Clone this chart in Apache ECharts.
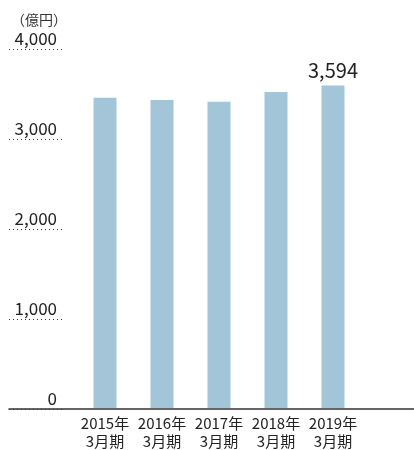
<!DOCTYPE html>
<html>
<head>
<meta charset="utf-8">
<script src="https://cdn.jsdelivr.net/npm/echarts@6/dist/echarts.min.js"></script>
<style>
html, body { margin: 0; padding: 0; background: #fff; }
#salesBar { width: 414px; height: 450px; }
</style>
</head>
<body>
<div id="salesBar"></div>
<script>
// 売上高（億円）
const categories = ['2015年\n3月期', '2016年\n3月期', '2017年\n3月期', '2018年\n3月期', '2019年\n3月期']
const sales = [3456, 3433, 3411, 3522, 3594]
const yTicks = [0, 1000, 2000, 3000, 4000]

const font = '"Noto Sans CJK JP", "Noto Sans", sans-serif'
const yMax = yTicks[yTicks.length - 1]
const yStep = yTicks[1] - yTicks[0]

let chart = echarts.init(document.getElementById('salesBar'))
let option = {
    animation: false,
    textStyle: { fontFamily: font },
    title: {
        text: '（億円）',
        left: 6,
        top: 8,
        textStyle: { fontSize: 14, fontWeight: 'normal', color: '#333', fontFamily: font }
    },
    grid: [
        // bars
        { left: 76.5, width: 285, top: 49, height: 360 },
        // dotted tick lines + labels
        { left: 9, width: 53, top: 49, height: 360 },
        // baseline
        { left: 9, right: 0, top: 49, height: 360 }
    ],
    xAxis: [
        {
            gridIndex: 0,
            type: 'category',
            data: categories,
            axisLine: { show: false },
            axisTick: { show: false },
            axisLabel: {
                interval: 0,
                margin: 6,
                fontSize: 15,
                lineHeight: 18,
                color: '#222',
                fontFamily: font
            }
        },
        {
            gridIndex: 1,
            type: 'value',
            show: false
        },
        {
            gridIndex: 2,
            type: 'value',
            axisLine: { show: true, lineStyle: { color: '#333', width: 1.5 } },
            axisTick: { show: false },
            axisLabel: { show: false },
            splitLine: { show: false }
        }
    ],
    yAxis: [
        {
            gridIndex: 0,
            type: 'value',
            min: 0,
            max: yMax,
            interval: yStep,
            show: false
        },
        {
            gridIndex: 1,
            type: 'value',
            position: 'right',
            min: 0,
            max: yMax,
            interval: yStep,
            axisLine: { show: false },
            axisTick: { show: false },
            splitLine: { show: true, lineStyle: { type: [1, 3], color: '#333', width: 1 } },
            axisLabel: {
                inside: true,
                margin: 5,
                verticalAlign: 'bottom',
                lineHeight: 20,
                fontSize: 17,
                color: '#222',
                fontFamily: font,
                formatter: function(v) {
                    return v.toLocaleString('en-US')
                }
            }
        },
        {
            gridIndex: 2,
            type: 'value',
            min: 0,
            max: yMax,
            show: false
        }
    ],
    series: [
        {
            type: 'bar',
            xAxisIndex: 0,
            yAxisIndex: 0,
            barWidth: 23,
            itemStyle: { color: '#a2c5d8' },
            data: sales.map(function(v, i) {
                return {
                    value: v,
                    label: {
                        show: i === sales.length - 1,
                        position: 'top',
                        distance: 5,
                        fontSize: 20,
                        color: '#222',
                        fontFamily: font,
                        formatter: function(p) {
                            return p.value.toLocaleString('en-US')
                        }
                    }
                }
            })
        }
    ]
}
chart.setOption(option)
</script>
</body>
</html>
